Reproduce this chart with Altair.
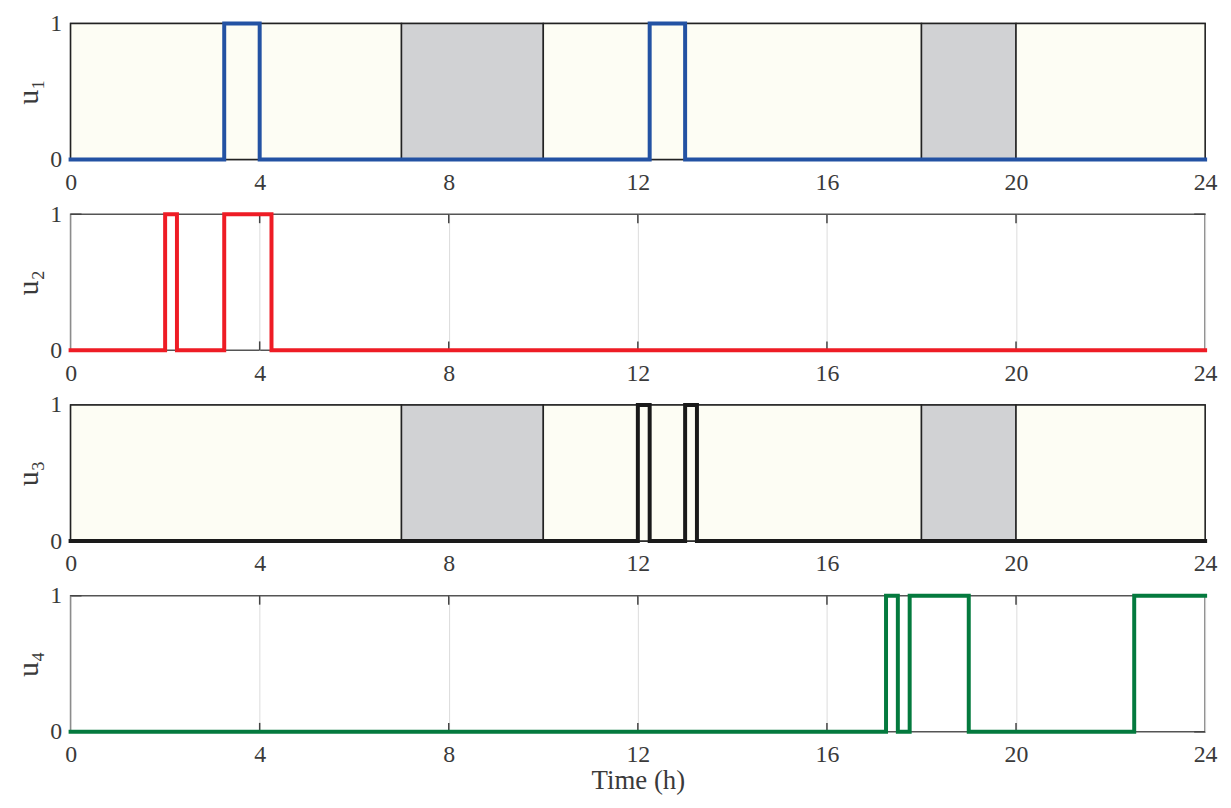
import altair as alt
import pandas as pd

hour_ticks = [0, 4, 8, 12, 16, 20, 24]
inner_ticks = [4, 8, 12, 16, 20]

u1_t = [0, 3.25, 4, 12.25, 13, 24]
u1_v = [0, 1, 0, 1, 0, 0]
u2_t = [0, 2.0, 2.25, 3.25, 4.25, 24]
u2_v = [0, 1, 0, 1, 0, 0]
u3_t = [0, 12.0, 12.25, 13.0, 13.25, 24]
u3_v = [0, 1, 0, 1, 0, 0]
u4_t = [0, 17.25, 17.5, 17.75, 19.0, 22.5, 24]
u4_v = [0, 1, 0, 1, 0, 1, 1]

band_start = [0, 7, 10, 18, 20]
band_end = [7, 10, 18, 20, 24]
band_kind = ["off", "peak", "off", "peak", "off"]

W, H = 1142, 137
FONT = "Liberation Serif"
TXT = "#3a3a3a"


def panel(t, v, color, title, shaded, last):
    df = pd.DataFrame({"t": t, "u": v})
    xaxis = alt.Axis(values=hour_ticks, ticks=False, domain=False, grid=not shaded,
                     gridColor="#dcdcdc", gridWidth=1, labelPadding=11, format="d",
                     labelFont=FONT, labelFontSize=24, labelColor=TXT,
                     title="Time (h)" if last else None, titlePadding=1,
                     titleFont=FONT, titleFontSize=27, titleColor=TXT,
                     titleFontWeight="normal", labelFlush=False)
    xs = alt.Scale(domain=[0, 24], nice=False, zero=False)
    ys = alt.Scale(domain=[0, 1], nice=False)
    yaxis = alt.Axis(values=[0, 1], ticks=False, domain=False, grid=False, format="d",
                     labelFont=FONT, labelFontSize=24, labelColor=TXT, labelPadding=9,
                     title=title, titlePadding=6, titleFont=FONT, titleFontSize=30,
                     titleColor=TXT, titleFontWeight="normal")
    layers = []
    if shaded:
        bands = pd.DataFrame({"s": band_start, "e": band_end, "k": band_kind})
        layers.append(
            alt.Chart(bands).mark_rect(stroke="#222222", strokeWidth=1.5).encode(
                x=alt.X("s:Q", scale=xs, axis=xaxis),
                x2="e:Q",
                y=alt.value(0), y2=alt.value(H),
                color=alt.Color("k:N", scale=alt.Scale(domain=["off", "peak"],
                                                       range=["#fdfdf4", "#d1d2d4"]),
                                legend=None),
            )
        )
    else:
        tk = pd.DataFrame({"t": inner_ticks})
        layers.append(alt.Chart(tk).mark_rule(color="#444444", strokeWidth=1.5).encode(
            x=alt.X("t:Q", scale=xs, axis=xaxis), y=alt.value(0), y2=alt.value(9)))
        layers.append(alt.Chart(tk).mark_rule(color="#444444", strokeWidth=1.5).encode(
            x=alt.X("t:Q", scale=xs, axis=xaxis), y=alt.value(H - 9), y2=alt.value(H)))
        yt = pd.DataFrame({"u": [0, 1]})
        layers.append(alt.Chart(yt).mark_rule(color="#444444", strokeWidth=1.5).encode(
            y=alt.Y("u:Q", scale=ys, axis=yaxis), x=alt.value(0), x2=alt.value(11)))
        layers.append(alt.Chart(yt).mark_rule(color="#444444", strokeWidth=1.5).encode(
            y=alt.Y("u:Q", scale=ys, axis=yaxis), x=alt.value(W - 11), x2=alt.value(W)))
    layers.append(
        alt.Chart(df).mark_line(color=color, strokeWidth=4, interpolate="step-after",
                                strokeCap="square").encode(
            x=alt.X("t:Q", scale=xs, axis=xaxis),
            y=alt.Y("u:Q", scale=ys, axis=yaxis),
        )
    )
    stroke = "#222222" if shaded else "#555555"
    return alt.layer(*layers).properties(
        width=W, height=H,
        view=alt.ViewBackground(stroke=stroke, strokeWidth=1.5, fill="white"),
    )


chart = alt.vconcat(
    panel(u1_t, u1_v, "#2352a3", "u₁", True, False),
    panel(u2_t, u2_v, "#ee1c25", "u₂", False, False),
    panel(u3_t, u3_v, "#1a1a1a", "u₃", True, False),
    panel(u4_t, u4_v, "#047a3e", "u₄", False, True),
    spacing=55,
    bounds="flush",
    padding={"left": 5, "top": 0, "right": 5, "bottom": 0},
)

chart.save("out.html", embed_options={"renderer": "svg", "actions": False})
